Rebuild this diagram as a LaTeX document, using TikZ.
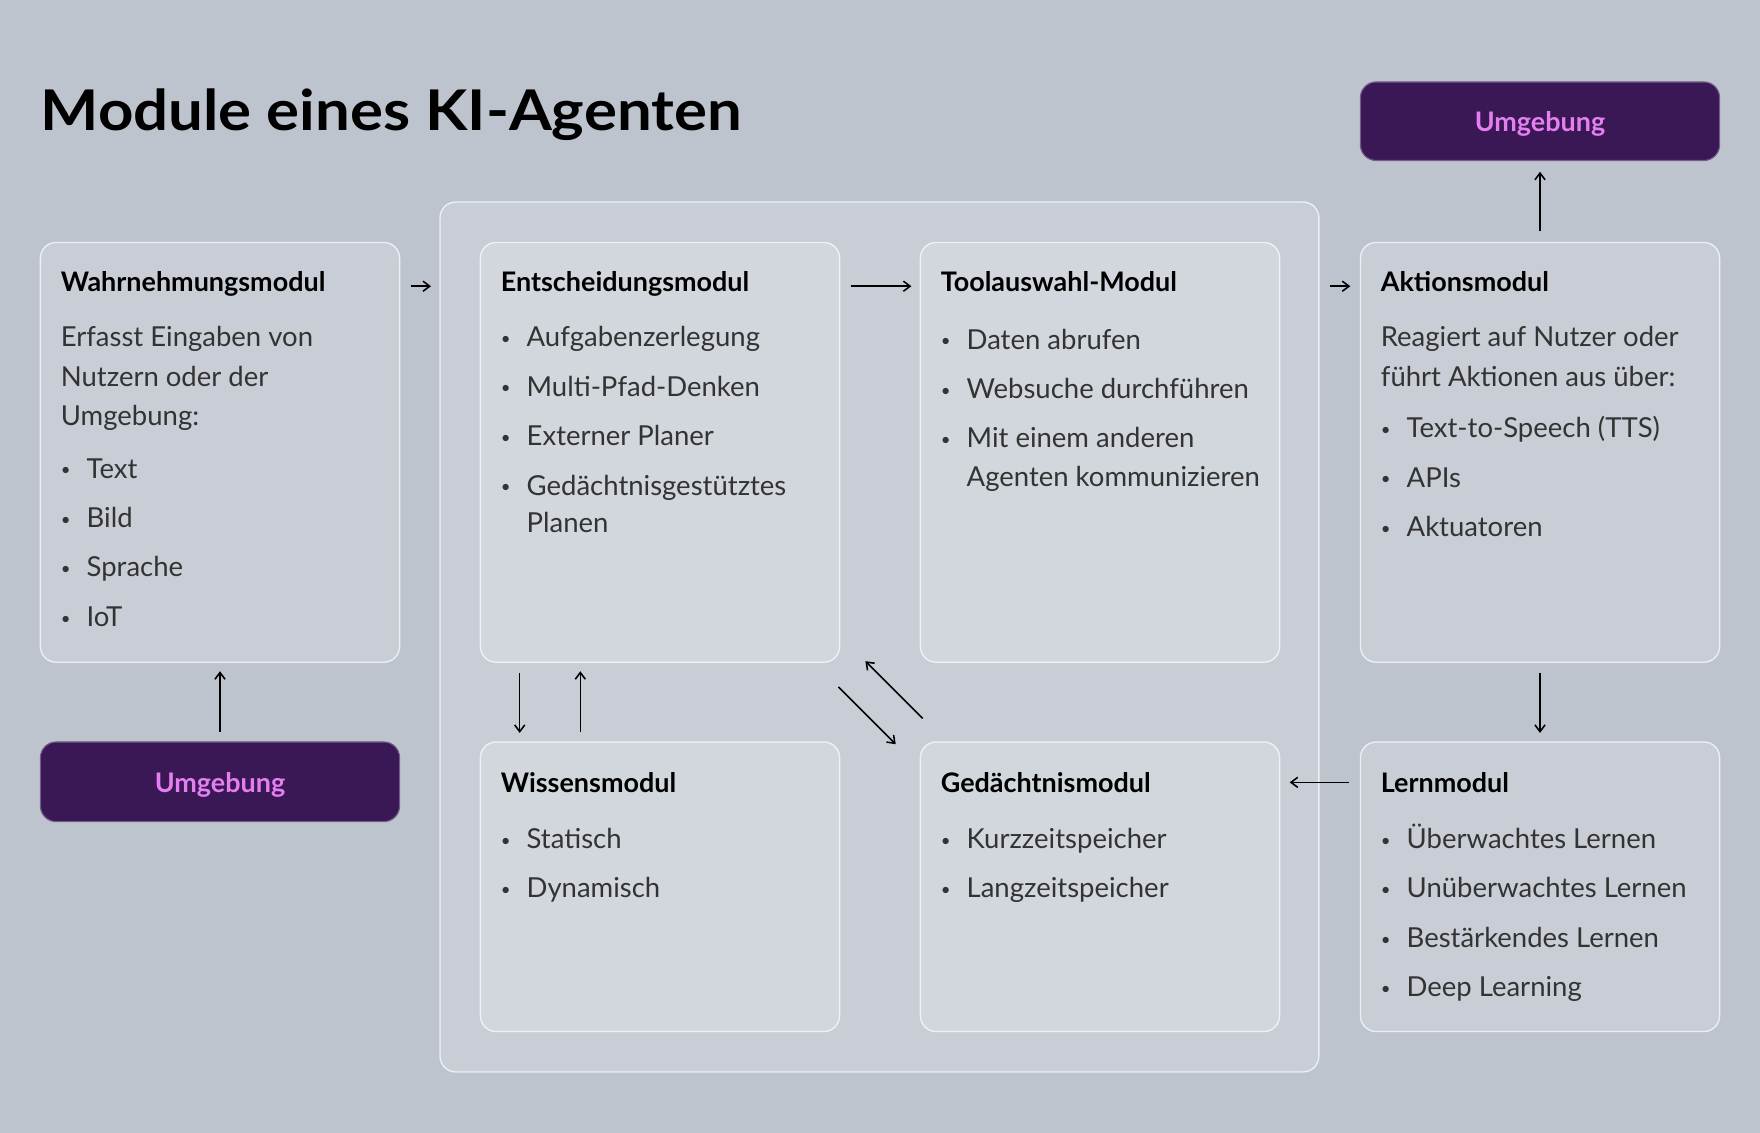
\documentclass[tikz,border=0pt]{standalone}
\usepackage{fontspec}
\setmainfont{Lato}
\usetikzlibrary{arrows.meta}
\definecolor{bg}{HTML}{BEC4CE}
\definecolor{env}{HTML}{3A1856}
\definecolor{envtxt}{HTML}{E57FF0}
\tikzset{
 box/.style={draw=white,draw opacity=0.7,fill=white,fill opacity=0.18,text opacity=1,rounded corners=14pt,line width=1.2pt},
 envbox/.style={fill=env,draw=env!70!white,rounded corners=14pt,line width=1pt},
 envlbl/.style={text=envtxt,font=\fontsize{24}{28}\selectfont\bfseries},
 head/.style={anchor=base west,font=\fontsize{24}{28}\selectfont\bfseries,text=black,inner sep=0},
 txt/.style={anchor=base west,font=\fontsize{24.5}{28}\selectfont,text=black!80,inner sep=0},
 bul/.style={anchor=base west,font=\fontsize{15}{18}\selectfont,text=black!80,inner sep=0,yshift=2pt},
 arr/.style={-{Straight Barb[length=6pt,width=9pt]},line width=1.4pt,black},
}
\begin{document}
\begin{tikzpicture}[x=1pt,y=-1pt]
\fill[bg] (0,0) rectangle (1568,1009);
\useasboundingbox (0,0) rectangle (1568,1009);
\node[anchor=base west,inner sep=0,xscale=1.1,font=\fontsize{50}{56}\selectfont\bfseries] (title) at (36,116) {Module eines KI-Agenten};
\draw[box] (392,180) rectangle (1175,955);
% boxes
\draw[box] (36,216) rectangle (356,590);
\draw[box] (428,216) rectangle (748,590);
\draw[box] (820,216) rectangle (1140,590);
\draw[box] (1212,216) rectangle (1532,590);
\draw[box] (428,661) rectangle (748,919);
\draw[box] (820,661) rectangle (1140,919);
\draw[box] (1212,661) rectangle (1532,919);
\node[envbox,minimum width=320pt,minimum height=70pt] (envT) at (1372,108) {};
\node[envlbl] (envTl) at (1372,110) {Umgebung};
\node[envbox,minimum width=320pt,minimum height=71pt] (envB) at (196,696.5) {};
\node[envlbl] (envBl) at (196,699) {Umgebung};
% texts
\node[head] (h1) at (54,260) {Wahrnehmungsmodul};
\node[txt] (a1) at (54,309) {Erfasst Eingaben von};
\node[txt] (a2) at (54,344) {Nutzern oder der};
\node[txt] (a3) at (54,379) {Umgebung:};
\foreach \t [count=\i from 0] in {Text,Bild,Sprache,IoT}{
 \node[bul] (ab\i) at (54,426+\i*44) {•}; \node[txt] (at\i) at (77,426+\i*44) {\t};}
\node[head] (h2) at (446,260) {Entscheidungsmodul};
\foreach \t [count=\i from 0] in {Aufgabenzerlegung,Multi-Pfad-Denken,Externer Planer,Gedächtnisgestütztes}{
 \node[bul] (bb\i) at (446,309+\i*44) {•}; \node[txt] (bt\i) at (469,309+\i*44) {\t};}
\node[txt] (bt4) at (469,474) {Planen};
\node[head] (h3) at (838,260) {Toolauswahl-Modul};
\foreach \t [count=\i from 0] in {Daten abrufen,Websuche durchführen,Mit einem anderen}{
 \node[bul] (cb\i) at (838,311+\i*44) {•}; \node[txt] (ct\i) at (861,311+\i*44) {\t};}
\node[txt] (ct3) at (861,433) {Agenten kommunizieren};
\node[head] (h4) at (1230,260) {Aktionsmodul};
\node[txt] (d1) at (1230,309) {Reagiert auf Nutzer oder};
\node[txt] (d2) at (1230,344) {führt Aktionen aus über:};
\foreach \t [count=\i from 0] in {Text-to-Speech (TTS),APIs,Aktuatoren}{
 \node[bul] (db\i) at (1230,390+\i*44) {•}; \node[txt] (dt\i) at (1253,390+\i*44) {\t};}
\node[head] (h5) at (446,706) {Wissensmodul};
\foreach \t [count=\i from 0] in {Statisch,Dynamisch}{
 \node[bul] (eb\i) at (446,756+\i*44) {•}; \node[txt] (et\i) at (469,756+\i*44) {\t};}
\node[head] (h6) at (838,706) {Gedächtnismodul};
\foreach \t [count=\i from 0] in {Kurzzeitspeicher,Langzeitspeicher}{
 \node[bul] (fb\i) at (838,756+\i*44) {•}; \node[txt] (ft\i) at (861,756+\i*44) {\t};}
\node[head] (h7) at (1230,706) {Lernmodul};
\foreach \t [count=\i from 0] in {Überwachtes Lernen,Unüberwachtes Lernen,Bestärkendes Lernen,Deep Learning}{
 \node[bul] (gb\i) at (1230,756+\i*44) {•}; \node[txt] (gt\i) at (1253,756+\i*44) {\t};}
% arrows
\draw[arr] (366,255) -- (384,255);
\draw[arr] (758,255) -- (812,255);
\draw[arr] (1185,255) -- (1203,255);
\draw[arr] (1372,206) -- (1372,153);
\draw[arr] (196,652) -- (196,598);
\draw[arr] (463,600) -- (463,653);
\draw[arr] (517,652) -- (517,598);
\draw[arr] (822,640) -- (771,589);
\draw[arr] (747,612) -- (798,663);
\draw[arr] (1372,600) -- (1372,653);
\draw[arr] (1202,697) -- (1149,697);
\end{tikzpicture}
\end{document}
